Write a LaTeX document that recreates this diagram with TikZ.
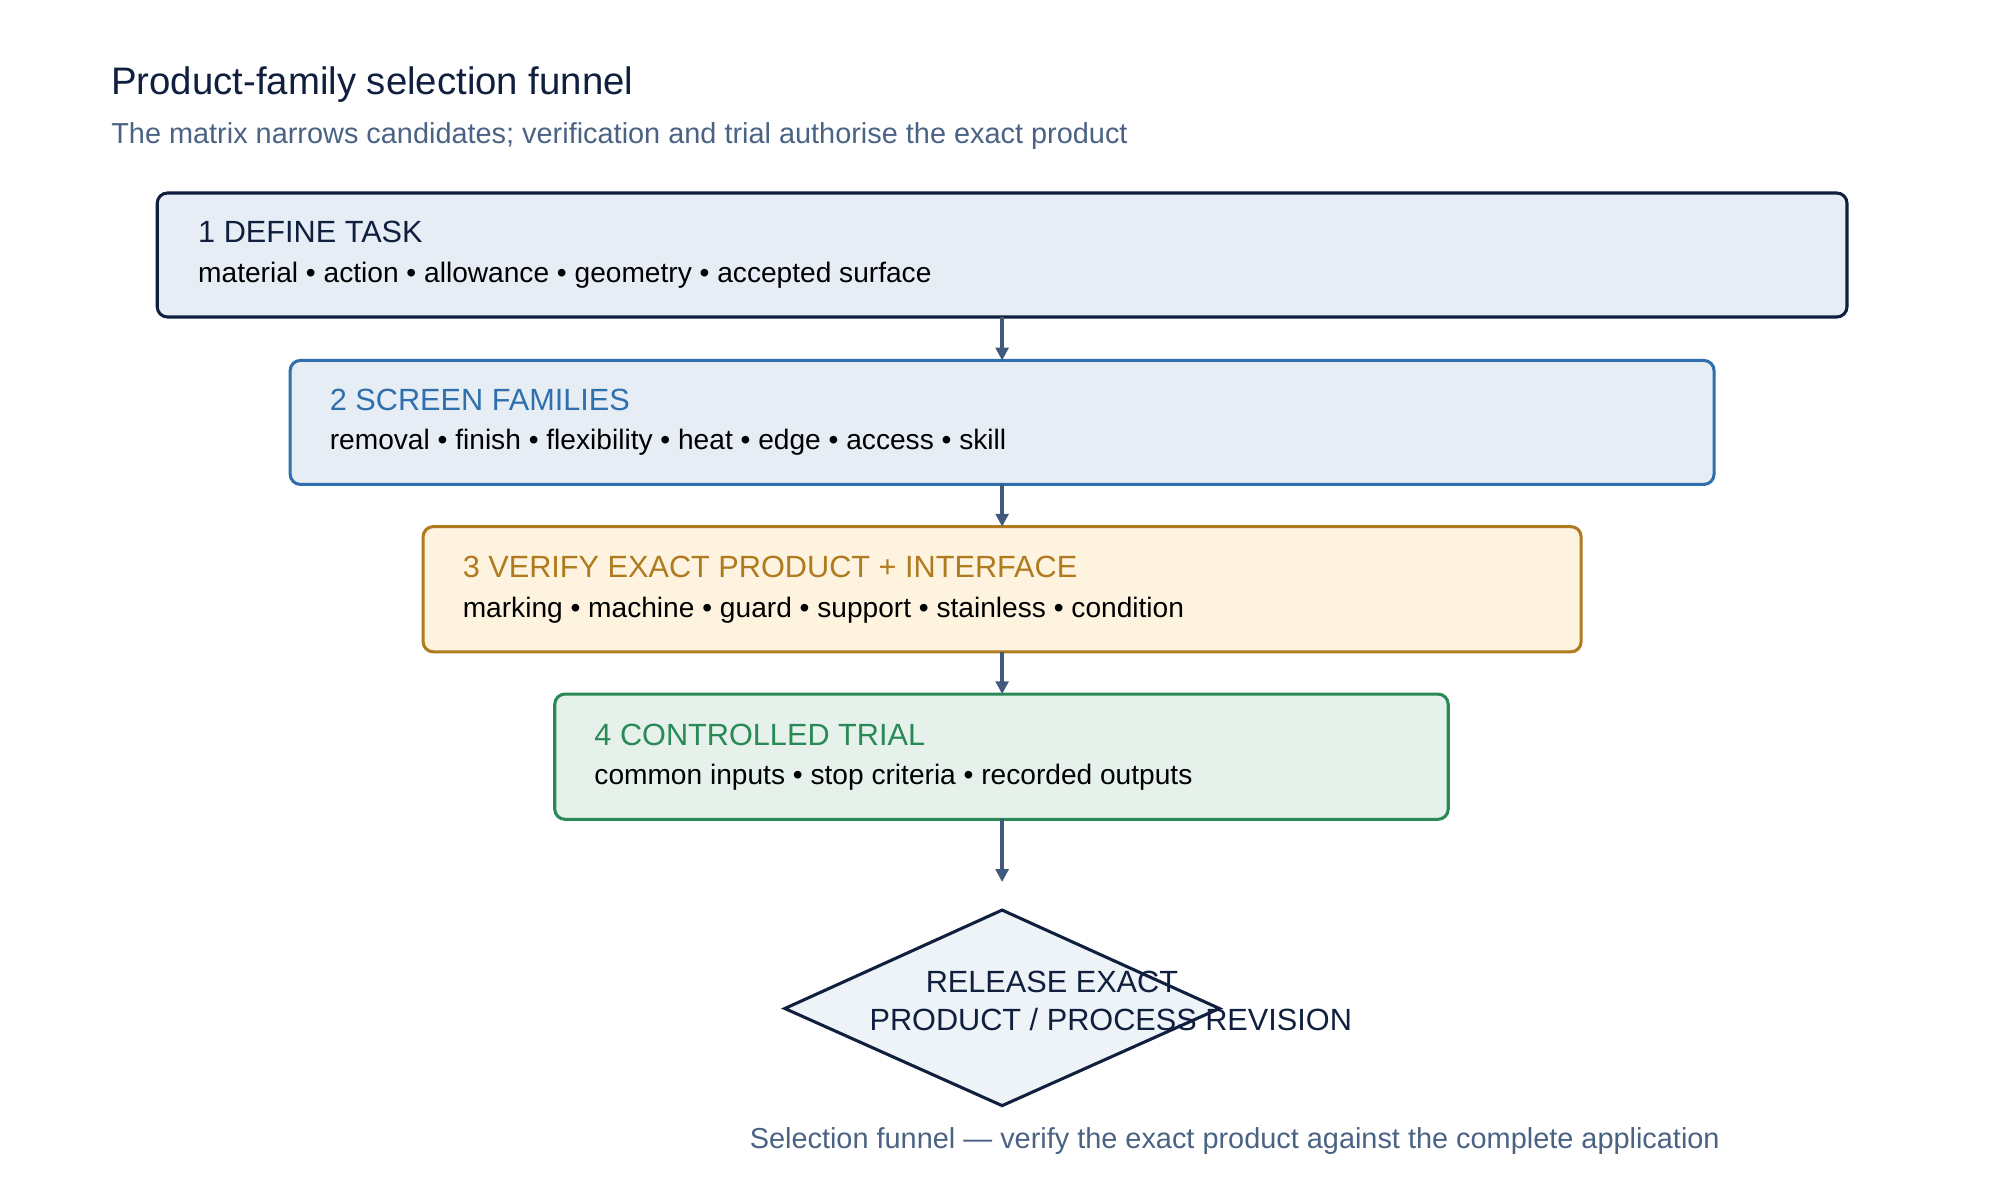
\documentclass[tikz,border=0pt]{standalone}
\usepackage{fontspec}
\setmainfont{Liberation Sans}
\usetikzlibrary{shapes.geometric,arrows.meta}
\definecolor{navy}{HTML}{0F1F3D}
\definecolor{sub}{HTML}{4A6384}
\definecolor{arr}{HTML}{3F5A7A}
\definecolor{bl}{HTML}{2F6FAD}
\definecolor{gold}{HTML}{B07A1E}
\definecolor{grn}{HTML}{2A8A57}
\definecolor{fblue}{HTML}{E6EDF5}
\definecolor{fgold}{HTML}{FDF3DF}
\definecolor{fgrn}{HTML}{E5F1EA}
\definecolor{fdia}{HTML}{EEF3F8}
\begin{document}
\begin{tikzpicture}[x=0.5pt,y=-0.5pt,
  stagebox/.style={draw,line width=1.2pt,rounded corners=4pt},
  ttl/.style={anchor=base west,font=\fontsize{12}{14}\selectfont},
  bdy/.style={anchor=base west,font=\fontsize{11}{13}\selectfont,text=black},
  conn/.style={draw=arr,line width=1.5pt,-{Triangle[length=5pt,width=5pt]}}]
\useasboundingbox (0,0) rectangle (1560,929);
\node[anchor=base west,text=navy,font=\fontsize{15}{18}\selectfont] (title) at (80,74) {Product-family selection funnel};
\node[anchor=base west,text=sub,font=\fontsize{11.3}{13}\selectfont] (subt) at (80,112) {The matrix narrows candidates; verification and trial authorise the exact product};

\draw[stagebox,draw=navy,fill=fblue] (123,151) rectangle (1445,248);
\draw[stagebox,draw=bl,fill=fblue] (227,282) rectangle (1341,379);
\draw[stagebox,draw=gold,fill=fgold] (331,412) rectangle (1237,510);
\draw[stagebox,draw=grn,fill=fgrn] (434,543) rectangle (1133,641);
\coordinate (b1) at (784,248); \coordinate (t2) at (784,282);
\coordinate (b2) at (784,379); \coordinate (t3) at (784,412);
\coordinate (b3) at (784,510); \coordinate (t4) at (784,543);
\coordinate (b4) at (784,641); \coordinate (e4) at (784,690);

\node[ttl,text=navy] (s1) at (148,190) {1 DEFINE TASK};
\node[bdy] (d1) at (148,221) {material • action • allowance • geometry • accepted surface};
\node[ttl,text=bl] (s2) at (251,321) {2 SCREEN FAMILIES};
\node[bdy] (d2) at (251,352) {removal • finish • flexibility • heat • edge • access • skill};
\node[ttl,text=gold] (s3) at (355,452) {3 VERIFY EXACT PRODUCT + INTERFACE};
\node[bdy] (d3) at (355,483) {marking • machine • guard • support • stainless • condition};
\node[ttl,text=grn] (s4) at (458,583) {4 CONTROLLED TRIAL};
\node[bdy] (d4) at (458,614) {common inputs • stop criteria • recorded outputs};

\draw[conn] (b1) -- (t2);
\draw[conn] (b2) -- (t3);
\draw[conn] (b3) -- (t4);
\draw[conn] (b4) -- (e4);

\draw[draw=navy,line width=1.2pt,fill=fdia] (614,789) -- (784,712) -- (954,789) -- (784,865) -- cycle;
\node[text=navy,font=\fontsize{12}{14}\selectfont] (r1) at (823,768) {RELEASE EXACT};
\node[text=navy,font=\fontsize{12}{14}\selectfont] (r2) at (869,798) {PRODUCT / PROCESS REVISION};

\node[text=sub,font=\fontsize{11.3}{13}\selectfont] (cap) at (966,893) {Selection funnel — verify the exact product against the complete application};
\end{tikzpicture}
\end{document}
